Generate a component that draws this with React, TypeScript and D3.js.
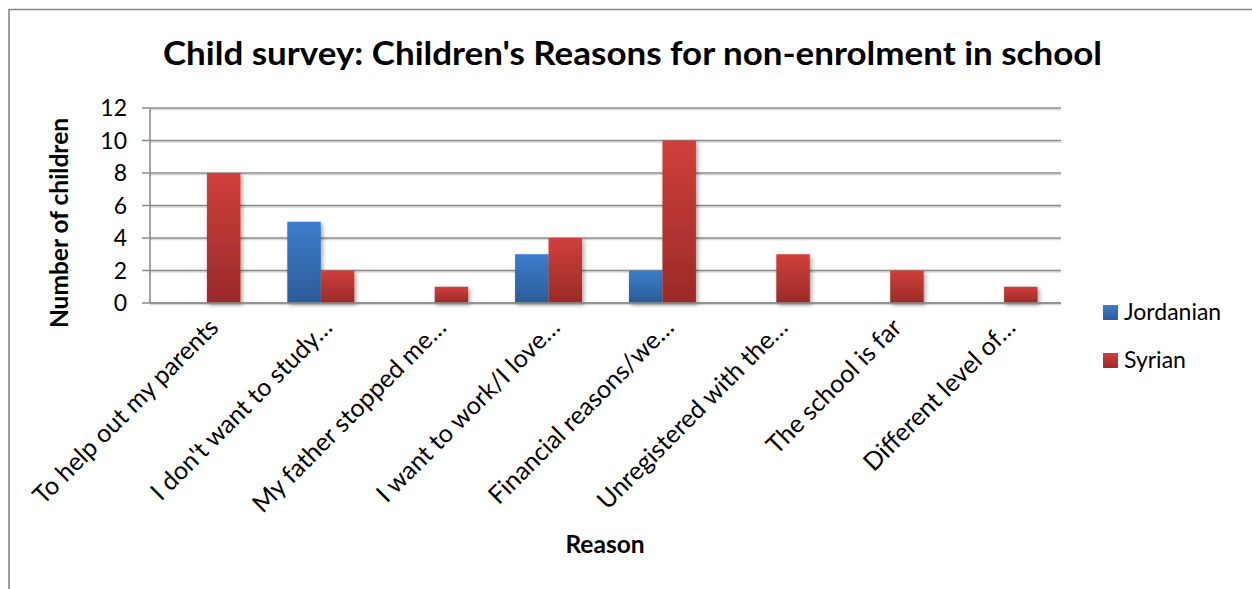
import React from "react";
import * as d3 from "d3";

const categories = [
  "To help out my parents",
  "I don't want to study…",
  "My father stopped me…",
  "I want to work/I love…",
  "Financial reasons/we…",
  "Unregistered with the…",
  "The school is far",
  "Different level of…",
];
const seriesNames = ["Jordanian", "Syrian"];
const jordanian = [0, 5, 0, 3, 2, 0, 0, 0];
const syrian = [8, 2, 1, 4, 10, 3, 2, 1];
const yTicks = [0, 2, 4, 6, 8, 10, 12];

const title = "Child survey: Children's Reasons for non-enrolment in school";
const yTitle = "Number of children";
const xTitle = "Reason";

const W = 1252;
const H = 589;
const FONT = "Lato, 'Open Sans', sans-serif";

export default function App() {
  const left = 150;
  const right = 1061;
  const top = 108;
  const bottom = 303;

  const x = d3.scaleBand<string>().domain(categories).range([left, right]).padding(0);
  const cw = x.bandwidth();
  const bw = cw / 3.4;
  const inner = d3.scaleBand<string>().domain(seriesNames).range([cw / 2 - bw, cw / 2 + bw]).padding(0);
  const y = d3.scaleLinear().domain([0, 12]).range([bottom, top]);

  const series = [
    { name: "Jordanian", values: jordanian, grad: "gradBlue" },
    { name: "Syrian", values: syrian, grad: "gradRed" },
  ];

  return (
    <svg
      width={W}
      height={H}
      style={{ position: "absolute", left: 0, top: 0, background: "#fff" }}
      fontFamily={FONT}
    >
      <defs>
        <linearGradient id="gradBlue" x1="0" y1="0" x2="0" y2="1">
          <stop offset="0" stopColor="#3c7dcc" />
          <stop offset="1" stopColor="#2b5c98" />
        </linearGradient>
        <linearGradient id="gradRed" x1="0" y1="0" x2="0" y2="1">
          <stop offset="0" stopColor="#d03f3b" />
          <stop offset="1" stopColor="#9a2a28" />
        </linearGradient>
        <filter id="shadow" x="-20%" y="-20%" width="150%" height="150%">
          <feGaussianBlur in="SourceAlpha" stdDeviation="2" />
          <feOffset dx="1.5" dy="1.5" result="b" />
          <feComponentTransfer>
            <feFuncA type="linear" slope="0.35" />
          </feComponentTransfer>
          <feMerge>
            <feMergeNode />
            <feMergeNode in="SourceGraphic" />
          </feMerge>
        </filter>
      </defs>

      <rect x={0} y={0} width={W} height={H} fill="#fff" />
      {/* chart border (cropped on right/bottom) */}
      <path d={`M9,${H + 2} V9.5 H${W + 2}`} fill="none" stroke="#878787" strokeWidth={1.6} />

      {/* title */}
      <text
        x={632.5}
        y={65}
        textAnchor="middle"
        fontWeight="bold"
        fontSize={33}
        textLength={939}
        lengthAdjust="spacingAndGlyphs"
        fill="#000"
      >
        {title}
      </text>

      {/* gridlines */}
      {yTicks.map((t) => (
        <g key={t}>
          <line x1={left} x2={right} y1={y(t) + 1.5} y2={y(t) + 1.5} stroke="#d8d8d8" strokeWidth={1.5} />
          <line x1={left - 8} x2={right} y1={y(t)} y2={y(t)} stroke="#8c8c8c" strokeWidth={1.6} />
          <text x={127} y={y(t)} dy="0.35em" textAnchor="end" fontSize={23} fill="#000">
            {t}
          </text>
        </g>
      ))}
      <line x1={left} x2={left} y1={top} y2={bottom} stroke="#8c8c8c" strokeWidth={1.6} />

      {/* bars */}
      {series.map((s) => (
        <g key={s.name} filter="url(#shadow)">
          {s.values.map((v, i) =>
            v > 0 ? (
              <rect
                key={i}
                x={(x(categories[i]) as number) + (inner(s.name) as number)}
                y={y(v)}
                width={inner.bandwidth()}
                height={y(0) - y(v)}
                fill={`url(#${s.grad})`}
              />
            ) : null
          )}
        </g>
      ))}
      <line x1={left} x2={right} y1={bottom} y2={bottom} stroke="#8c8c8c" strokeWidth={1.6} />

      {/* category labels */}
      {categories.map((c) => {
        const cx = (x(c) as number) + cw / 2;
        return (
          <text
            key={c}
            transform={`translate(${cx + 13},${bottom + 26}) rotate(-45)`}
            textAnchor="end"
            fontSize={25}
            fill="#000"
          >
            {c}
          </text>
        );
      })}

      {/* axis titles */}
      <text x={605} y={553} textAnchor="middle" fontWeight="bold" fontSize={24.5} fill="#000">
        {xTitle}
      </text>
      <text
        transform={`translate(68,223) rotate(-90)`}
        textAnchor="middle"
        fontWeight="bold"
        fontSize={24.5}
        fill="#000"
      >
        {yTitle}
      </text>

      {/* legend */}
      {series.map((s, i) => (
        <g key={s.name} transform={`translate(1103,${305 + i * 48})`}>
          <rect x={0} y={0} width={15} height={15} fill={`url(#${s.grad})`} />
          <text x={21} y={15} fontSize={23} fill="#000">
            {s.name}
          </text>
        </g>
      ))}
    </svg>
  );
}
